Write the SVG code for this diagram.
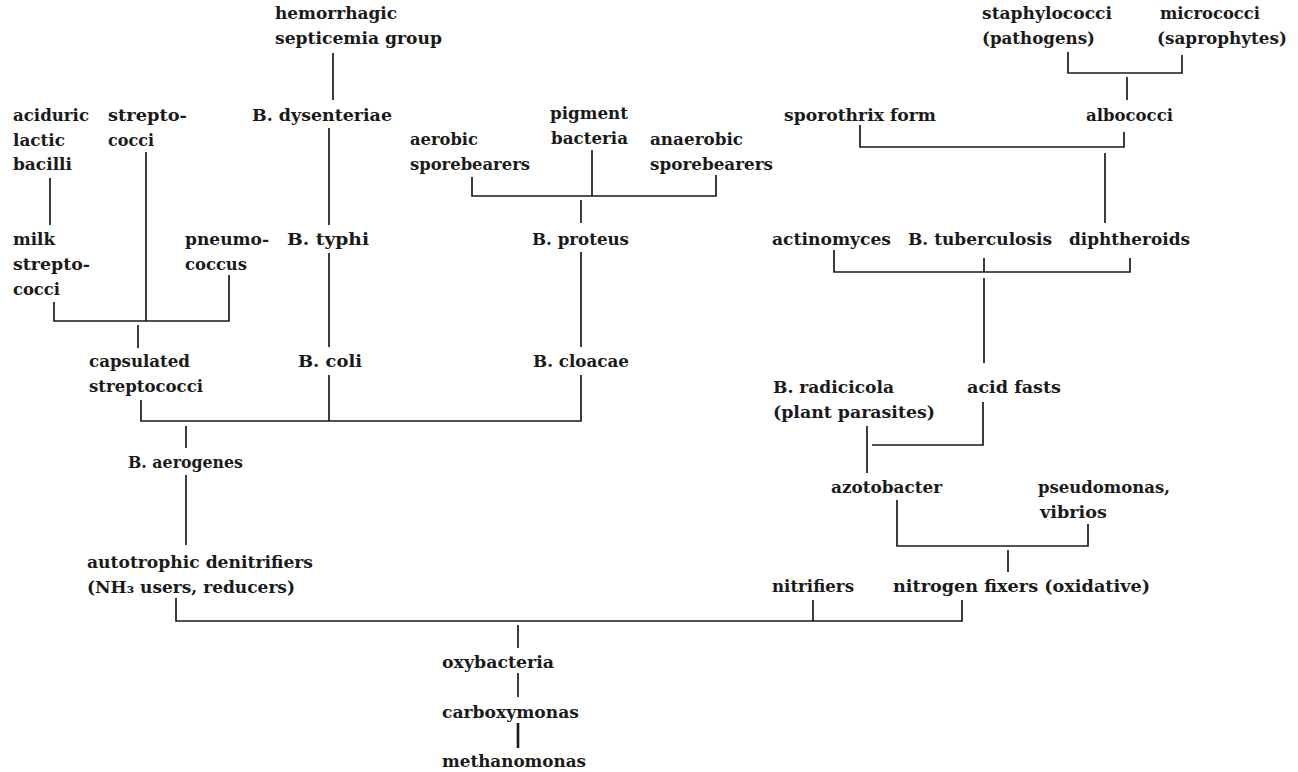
<svg xmlns="http://www.w3.org/2000/svg" width="1298" height="772" viewBox="0 0 1298 772">
<style>
text{font-family:"DejaVu Serif","Liberation Serif",serif;font-weight:bold;font-size:17px;fill:#1a1a1a}
.c{stroke:#1a1a1a;stroke-width:1.7;fill:none}
.t{stroke-width:2.6}
</style>
<rect width="1298" height="772" fill="#fff"/>
<g id="connectors">
<path class="c" d="M333 53V100"/>
<path class="c" d="M329 128V225"/>
<path class="c" d="M329 253V347"/>
<path class="c" d="M329 375V421"/>
<path class="c" d="M50 178V225"/>
<path class="c" d="M146 152V321"/>
<path class="c" d="M54 302V321H229V275"/>
<path class="c" d="M138 325V348"/>
<path class="c" d="M141 400V421H581V375"/>
<path class="c" d="M186 426V448"/>
<path class="c" d="M186 475V545"/>
<path class="c" d="M176 598V621H962V600"/>
<path class="c" d="M813 600V621"/>
<path class="c" d="M518 625V648"/>
<path class="c" d="M518 673V697"/>
<path class="c t" d="M518 723V748"/>
<path class="c" d="M472 177V196H716V175"/>
<path class="c" d="M592 150V196"/>
<path class="c" d="M581 200V223"/>
<path class="c" d="M581 252V347"/>
<path class="c" d="M1068 52V73H1182V55"/>
<path class="c" d="M1127 77V100"/>
<path class="c" d="M860 125V147H1124V132"/>
<path class="c" d="M1105 153V223"/>
<path class="c" d="M834 250V272H1130V258"/>
<path class="c" d="M984 258V272"/>
<path class="c" d="M984 278V363"/>
<path class="c" d="M983 402V445H872"/>
<path class="c" d="M867 426V473"/>
<path class="c" d="M897 500V546H1088V524"/>
<path class="c" d="M1008 550V572"/>
</g>
<g id="n-hemorrhagic"><text x="275" y="19" textLength="122" lengthAdjust="spacingAndGlyphs">hemorrhagic</text><text x="275" y="44" textLength="167" lengthAdjust="spacingAndGlyphs">septicemia group</text></g>
<g id="n-dysenteriae"><text x="252" y="121" textLength="140" lengthAdjust="spacingAndGlyphs">B. dysenteriae</text></g>
<g id="n-aciduric"><text x="13" y="121" textLength="76" lengthAdjust="spacingAndGlyphs">aciduric</text><text x="13" y="146" textLength="52" lengthAdjust="spacingAndGlyphs">lactic</text><text x="13" y="170" textLength="59" lengthAdjust="spacingAndGlyphs">bacilli</text></g>
<g id="n-streptococci"><text x="108" y="121" textLength="79" lengthAdjust="spacingAndGlyphs">strepto-</text><text x="108" y="146" textLength="46" lengthAdjust="spacingAndGlyphs">cocci</text></g>
<g id="n-milk"><text x="13" y="245" textLength="42" lengthAdjust="spacingAndGlyphs">milk</text><text x="13" y="270" textLength="77" lengthAdjust="spacingAndGlyphs">strepto-</text><text x="13" y="295" textLength="47" lengthAdjust="spacingAndGlyphs">cocci</text></g>
<g id="n-pneumococcus"><text x="185" y="245" textLength="84" lengthAdjust="spacingAndGlyphs">pneumo-</text><text x="185" y="270" textLength="62" lengthAdjust="spacingAndGlyphs">coccus</text></g>
<g id="n-typhi"><text x="287" y="245" textLength="82" lengthAdjust="spacingAndGlyphs">B. typhi</text></g>
<g id="n-pigment"><text x="550" y="119" textLength="78" lengthAdjust="spacingAndGlyphs">pigment</text><text x="551" y="144" textLength="77" lengthAdjust="spacingAndGlyphs">bacteria</text></g>
<g id="n-aerobic"><text x="410" y="145" textLength="68" lengthAdjust="spacingAndGlyphs">aerobic</text><text x="410" y="170" textLength="120" lengthAdjust="spacingAndGlyphs">sporebearers</text></g>
<g id="n-anaerobic"><text x="650" y="145" textLength="93" lengthAdjust="spacingAndGlyphs">anaerobic</text><text x="650" y="170" textLength="123" lengthAdjust="spacingAndGlyphs">sporebearers</text></g>
<g id="n-proteus"><text x="532" y="245" textLength="97" lengthAdjust="spacingAndGlyphs">B. proteus</text></g>
<g id="n-staphylococci"><text x="982" y="19" textLength="130" lengthAdjust="spacingAndGlyphs">staphylococci</text><text x="982" y="44" textLength="113" lengthAdjust="spacingAndGlyphs">(pathogens)</text></g>
<g id="n-micrococci"><text x="1160" y="19" textLength="100" lengthAdjust="spacingAndGlyphs">micrococci</text><text x="1157" y="44" textLength="130" lengthAdjust="spacingAndGlyphs">(saprophytes)</text></g>
<g id="n-sporothrix"><text x="784" y="121" textLength="152" lengthAdjust="spacingAndGlyphs">sporothrix form</text></g>
<g id="n-albococci"><text x="1086" y="121" textLength="87" lengthAdjust="spacingAndGlyphs">albococci</text></g>
<g id="n-actinomyces"><text x="772" y="245" textLength="119" lengthAdjust="spacingAndGlyphs">actinomyces</text></g>
<g id="n-tuberculosis"><text x="908" y="245" textLength="144" lengthAdjust="spacingAndGlyphs">B. tuberculosis</text></g>
<g id="n-diphtheroids"><text x="1069" y="245" textLength="121" lengthAdjust="spacingAndGlyphs">diphtheroids</text></g>
<g id="n-capsulated"><text x="89" y="367" textLength="101" lengthAdjust="spacingAndGlyphs">capsulated</text><text x="89" y="392" textLength="114" lengthAdjust="spacingAndGlyphs">streptococci</text></g>
<g id="n-coli"><text x="298" y="367" textLength="64" lengthAdjust="spacingAndGlyphs">B. coli</text></g>
<g id="n-cloacae"><text x="533" y="367" textLength="96" lengthAdjust="spacingAndGlyphs">B. cloacae</text></g>
<g id="n-radicicola"><text x="773" y="393" textLength="121" lengthAdjust="spacingAndGlyphs">B. radicicola</text><text x="773" y="418" textLength="162" lengthAdjust="spacingAndGlyphs">(plant parasites)</text></g>
<g id="n-acidfasts"><text x="967" y="393" textLength="94" lengthAdjust="spacingAndGlyphs">acid fasts</text></g>
<g id="n-aerogenes"><text x="128" y="468" textLength="115" lengthAdjust="spacingAndGlyphs">B. aerogenes</text></g>
<g id="n-azotobacter"><text x="831" y="493" textLength="111" lengthAdjust="spacingAndGlyphs">azotobacter</text></g>
<g id="n-pseudomonas"><text x="1038" y="493" textLength="132" lengthAdjust="spacingAndGlyphs">pseudomonas,</text><text x="1040" y="518" textLength="67" lengthAdjust="spacingAndGlyphs">vibrios</text></g>
<g id="n-autotrophic"><text x="87" y="568" textLength="226" lengthAdjust="spacingAndGlyphs">autotrophic denitrifiers</text><text x="87" y="593" textLength="208" lengthAdjust="spacingAndGlyphs">(NH₃ users, reducers)</text></g>
<g id="n-nitrifiers"><text x="772" y="592" textLength="82" lengthAdjust="spacingAndGlyphs">nitrifiers</text></g>
<g id="n-nitrogenfixers"><text x="893" y="592" textLength="257" lengthAdjust="spacingAndGlyphs">nitrogen fixers (oxidative)</text></g>
<g id="n-oxybacteria"><text x="442" y="668" textLength="112" lengthAdjust="spacingAndGlyphs">oxybacteria</text></g>
<g id="n-carboxymonas"><text x="442" y="718" textLength="137" lengthAdjust="spacingAndGlyphs">carboxymonas</text></g>
<g id="n-methanomonas"><text x="442" y="767" textLength="144" lengthAdjust="spacingAndGlyphs">methanomonas</text></g>
</svg>
